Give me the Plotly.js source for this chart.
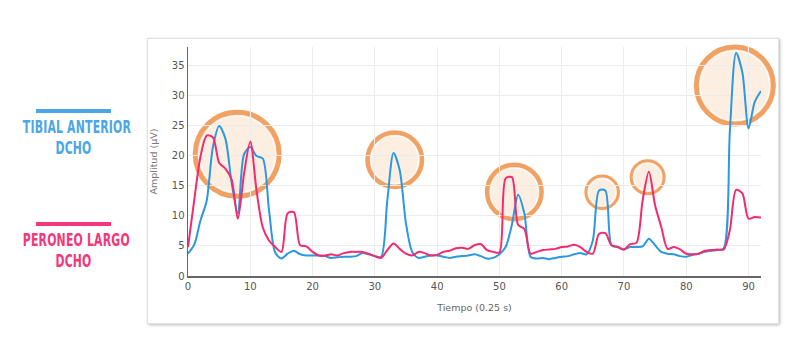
<!DOCTYPE html>
<html>
<head>
<meta charset="utf-8">
<script src="https://cdn.plot.ly/plotly-3.0.1.min.js"></script>
<style>
  html, body { margin: 0; padding: 0; background: #ffffff; }
  #wrap { position: relative; width: 792px; height: 364px; overflow: hidden; }
  #card { position: absolute; left: 147px; top: 38px; width: 630px; height: 284px;
          background: #fff; border: 1px solid #e2e2e2; box-shadow: 1px 1px 3px rgba(0,0,0,0.28); }
  #chart { position: absolute; left: 0; top: 0; width: 792px; height: 364px; }
  .lg { position: absolute; left: 0; width: 147px; text-align: center;
        font-family: "Liberation Sans Narrow", "DejaVu Sans Condensed", "DejaVu Sans", sans-serif;
        font-weight: 700; font-size: 17.5px; line-height: 21px; letter-spacing: 0.3px;
        transform: scaleX(0.69); transform-origin: 73.5px 0; white-space: nowrap; }
</style>
</head>
<body>
<div id="wrap">
  <div id="card"></div>
  <div id="chart"></div>
  <div class="lg" id="lg0"></div>
  <div class="lg" id="lg1"></div>
</div>
<script>
// ---- data ----
const tiempo = [0,1,2,3,4,5,6,7,8,9,10,11,12,13,14,15,16,17,18,19,20,21,22,23,24,25,26,27,28,29,30,
  31,32,33,34,35,36,37,38,39,40,41,42,43,44,45,46,47,48,49,50,51,52,53,54,55,56,57,58,59,60,
  61,62,63,64,65,66,67,68,69,70,71,72,73,74,75,76,77,78,79,80,81,82,83,84,85,86,87,88,89,90,91,92];

const tibialAnterior = [
  3.7, 5.2, 9.2, 12.5, 21.4, 24.9, 22.8, 15.5, 10.4, 20.2,   // 0-9
  21.4, 19.9, 19.5, 11.0, 3.9, 2.9, 3.7, 4.2, 3.6, 3.4,      // 10-19
  3.4, 3.4, 3.3, 3.0, 3.1, 3.2, 3.2, 3.3, 3.8, 3.6,          // 20-29
  3.3, 3.2, 12.5, 20.4, 17.5, 8.7, 4.0, 3.0, 3.2, 3.4,       // 30-39
  3.4, 3.2, 3.0, 3.2, 3.3, 3.4, 3.6, 3.3, 2.9, 3.0,          // 40-49
  3.6, 4.8, 8.5, 13.5, 10.4, 3.2, 2.9, 3.0, 2.8, 3.0,        // 50-59
  3.2, 3.3, 3.6, 3.8, 3.6, 5.9, 14.2, 14.2, 5.1, 4.8,        // 60-69
  4.4, 4.8, 4.8, 4.9, 6.2, 5.1, 4.0, 3.7, 3.6, 3.3,          // 70-79
  3.2, 3.5, 3.7, 4.0, 4.2, 4.3, 4.6, 24.0, 37.0, 33.8,       // 80-89
  24.5, 28.9, 30.7                                           // 90-92
];

const peroneoLargo = [
  4.8, 12.6, 19.8, 23.3, 23.0, 18.8, 17.8, 16.0, 9.5, 17.0,  // 0-9
  22.3, 14.2, 8.1, 5.9, 4.8, 4.0, 10.4, 10.6, 5.1, 4.9,      // 10-19
  4.0, 3.4, 3.4, 3.6, 3.4, 3.8, 4.0, 4.0, 4.0, 3.7,          // 20-29
  3.3, 3.0, 4.3, 5.4, 4.5, 3.7, 3.4, 4.0, 3.8, 3.4,          // 30-39
  3.5, 4.0, 4.2, 4.6, 4.7, 4.5, 5.1, 5.3, 4.3, 4.0,          // 40-49
  3.9, 16.2, 16.4, 8.5, 7.8, 3.7, 4.0, 4.3, 4.4, 4.5,        // 50-59
  4.8, 4.9, 5.2, 4.8, 4.0, 3.7, 7.0, 7.1, 5.1, 4.8,          // 60-69
  4.4, 5.3, 5.5, 12.6, 17.3, 11.7, 8.1, 4.5, 4.8, 4.4,       // 70-79
  3.7, 3.6, 3.7, 4.2, 4.3, 4.4, 4.4, 7.6, 14.3, 13.7,        // 80-89
  9.5, 9.8, 9.7                                              // 90-92
];

const xTicks = [0, 10, 20, 30, 40, 50, 60, 70, 80, 90];
const yTicks = [0, 5, 10, 15, 20, 25, 30, 35];
const seriesNames = [["TIBIAL ANTERIOR", "DCHO"], ["PERONEO LARGO", "DCHO"]];

// highlighted regions (centre in data units)
const highlightX = [7.9, 33.2, 52.4, 66.5, 73.8, 87.8];
const highlightY = [20.2, 19.3, 13.95, 13.9, 16.4, 31.6];
// ---- end data ----

const highlightRadiusPx = [44.5, 29.5, 29.5, 17.8, 18, 41];
const highlightStroke = [5, 4.5, 4.5, 3, 3, 5];

const W = 792, H = 364;
const M = {l: 188, r: 31, t: 47, b: 88};
const PW = W - M.l - M.r, PH = H - M.t - M.b;
const XR = [0, 92], YR = [0, 38];
const px2x = p => (p - M.l) / PW;
const px2y = p => 1 - (p - M.t) / PH;
const d2px = v => (v - XR[0]) / (XR[1] - XR[0]);   // data -> paper fraction (x)
const d2py = v => (v - YR[0]) / (YR[1] - YR[0]);   // data -> paper fraction (y)

const BLUE = '#2b98e0', PINK = '#f42a6c';
const BLUE_T = '#4aa6e6', PINK_T = '#f2387a';

const traces = [
  {x: tiempo, y: tibialAnterior, type: 'scatter', mode: 'lines', name: 'Tibial anterior dcho',
   line: {color: BLUE, width: 2, shape: 'spline', smoothing: 0.8}, hoverinfo: 'skip'},
  {x: tiempo, y: peroneoLargo, type: 'scatter', mode: 'lines', name: 'Peroneo largo dcho',
   line: {color: PINK, width: 2, shape: 'spline', smoothing: 0.8}, hoverinfo: 'skip'}
];

const shapes = [];
highlightX.forEach((cx, i) => {
  const r = highlightRadiusPx[i], w = highlightStroke[i];
  const rr = r - w / 2;
  const ax = d2px(cx), ay = d2py(highlightY[i]);
  shapes.push({type: 'circle', xref: 'paper', yref: 'paper', xsizemode: 'pixel', ysizemode: 'pixel',
    xanchor: ax, yanchor: ay, x0: -rr, x1: rr, y0: -rr, y1: rr,
    fillcolor: 'rgba(251,226,206,0.6)', line: {color: '#f1a263', width: w}, layer: 'between'});
  const ri = rr - w / 2 - 1.2;
  shapes.push({type: 'circle', xref: 'paper', yref: 'paper', xsizemode: 'pixel', ysizemode: 'pixel',
    xanchor: ax, yanchor: ay, x0: -ri, x1: ri, y0: -ri, y1: ri,
    fillcolor: 'rgba(0,0,0,0)', line: {color: 'rgba(255,255,255,0.9)', width: 1}, layer: 'between'});
});
// legend bars
shapes.push({type: 'line', xref: 'paper', yref: 'paper', x0: px2x(36), x1: px2x(111), y0: px2y(111), y1: px2y(111),
  line: {color: BLUE_T, width: 4}});
shapes.push({type: 'line', xref: 'paper', yref: 'paper', x0: px2x(36), x1: px2x(111), y0: px2y(224), y1: px2y(224),
  line: {color: PINK_T, width: 4}});

const layout = {
  width: W, height: H,
  margin: M,
  paper_bgcolor: 'rgba(0,0,0,0)',
  plot_bgcolor: 'rgba(0,0,0,0)',
  showlegend: false,
  font: {family: '"DejaVu Sans", "Open Sans", sans-serif', size: 10, color: '#555'},
  xaxis: {
    range: XR, tickvals: xTicks, ticktext: xTicks.map(String),
    showgrid: true, gridcolor: '#ececec', gridwidth: 1,
    showline: true, linecolor: '#666', linewidth: 1.5, zeroline: false,
    ticks: '', ticklen: 0, tickfont: {size: 10, color: '#555'},
    title: {text: 'Tiempo (0.25 s)', font: {size: 9.5, color: '#666'}, standoff: 14},
    automargin: false
  },
  yaxis: {
    range: YR, tickvals: yTicks, ticktext: yTicks.map(String),
    showgrid: true, gridcolor: '#ececec', gridwidth: 1,
    showline: true, linecolor: '#666', linewidth: 1.5, zeroline: false,
    ticks: '', ticklen: 0, tickfont: {size: 10, color: '#555'},
    title: {text: 'Amplitud (µV)', font: {size: 9.5, color: '#777'}, standoff: 12},
    automargin: false
  },
  shapes: shapes
};

// legend labels as real text
const lgColors = [BLUE_T, PINK_T];
const lgTops = [117, 229.5];
seriesNames.forEach((lines, i) => {
  const el = document.getElementById('lg' + i);
  el.innerHTML = lines.join('<br>');
  el.style.color = lgColors[i];
  el.style.top = lgTops[i] + 'px';
});

Plotly.newPlot('chart', traces, layout, {displayModeBar: false, staticPlot: true});
</script>
</body>
</html>
